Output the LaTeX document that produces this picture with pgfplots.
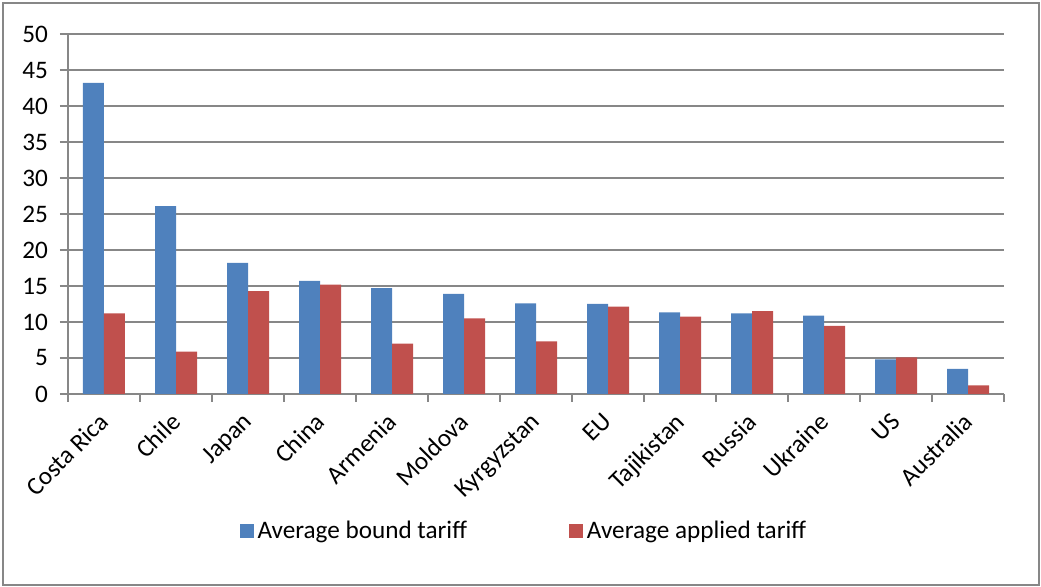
\documentclass[border=0pt]{standalone}
\usepackage{pgfplots}
\pgfplotsset{compat=1.18}
\usepackage{fontspec}
\setmainfont{Carlito}
\definecolor{boundblue}{HTML}{4F81BD}
\definecolor{appliedred}{HTML}{C0504D}
\definecolor{gridgray}{HTML}{878787}
\begin{document}
\begin{tikzpicture}
\begin{axis}[
  name=ax,
  scale only axis,
  width=468pt, height=180pt,
  ybar=0pt, bar width=10.5pt,
  xmin=-0.5, xmax=12.5, ymin=0, ymax=50,
  ytick={0,5,...,50},
  xtick={0,...,12},
  xticklabels={Costa Rica,Chile,Japan,China,Armenia,Moldova,Kyrgyzstan,EU,Tajikistan,Russia,Ukraine,US,Australia},
  minor xtick={-0.5,0.5,...,12.5},
  axis lines*=left,
  tick align=outside,
  major tick length=4pt, minor tick length=4pt,
  major x tick style={draw=none},
  tick style={gridgray, line width=0.75pt},
  axis line style={gridgray, line width=0.75pt},
  ymajorgrids,
  grid style={gridgray, line width=0.75pt},
  /pgf/number format/assume math mode=true,
  tick label style={font=\fontsize{12.6}{15}\selectfont, black},
  yticklabel style={xshift=-2.5pt},
  xticklabel style={rotate=45, anchor=north east, xshift=-2pt, yshift=2.5pt},
  legend style={at={(0.488,-0.3806)}, anchor=center, draw=none,
    legend columns=2, font=\fontsize{12.6}{15}\selectfont,
    /tikz/every even column/.append style={column sep=49pt}},
  legend image code/.code={\fill[#1] (0pt,-3.5pt) rectangle (7pt,3.5pt);},
]
\addplot[fill=boundblue, draw=none] coordinates {
  (0,43.2) (1,26.1) (2,18.2) (3,15.7) (4,14.7) (5,13.9) (6,12.6)
  (7,12.5) (8,11.35) (9,11.2) (10,10.9) (11,4.8) (12,3.5)};
\addplot[fill=appliedred, draw=none] coordinates {
  (0,11.2) (1,5.9) (2,14.3) (3,15.2) (4,7.0) (5,10.5) (6,7.3)
  (7,12.15) (8,10.75) (9,11.5) (10,9.45) (11,5.1) (12,1.2)};
\legend{Average bound tariff, Average applied tariff}
\end{axis}
% chart frame
\draw[gridgray, line width=0.6pt] ([shift={(-32.5pt,-95.5pt)}]ax.south west) rectangle ([shift={(17.5pt,15.5pt)}]ax.north east);
\pgfresetboundingbox
\useasboundingbox ([shift={(-34pt,-96.5pt)}]ax.south west) rectangle ([shift={(18.5pt,17pt)}]ax.north east);
\end{tikzpicture}
\end{document}
